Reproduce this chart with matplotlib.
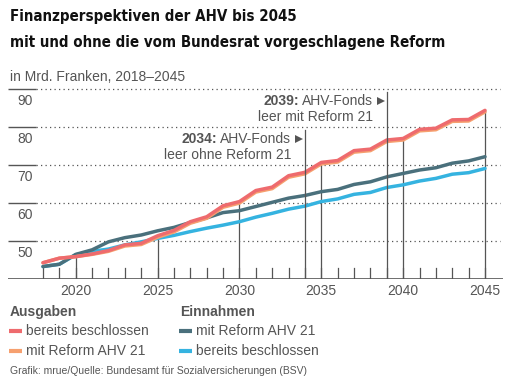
import matplotlib.pyplot as plt
from matplotlib.lines import Line2D

years = list(range(2018, 2046))

# Ausgaben
ausg_beschlossen = [44.2, 45.4, 45.8, 46.5, 47.4, 48.9, 49.3, 51.3, 52.7, 55.0, 56.3, 59.2,
                    60.3, 63.2, 64.1, 67.1, 68.0, 70.6, 71.1, 73.7, 74.1, 76.5, 76.9, 79.3,
                    79.6, 81.8, 81.9, 84.3]
ausg_reform = [44.2, 45.4, 45.8, 46.4, 47.2, 48.6, 49.0, 50.9, 52.3, 54.6, 55.9, 58.8,
               59.9, 62.8, 63.7, 66.7, 67.6, 70.2, 70.7, 73.3, 73.7, 76.1, 76.5, 78.9,
               79.2, 81.4, 81.5, 83.9]

# Einnahmen
einn_reform = [43.2, 43.8, 46.4, 47.6, 49.7, 50.8, 51.5, 52.6, 53.5, 54.8, 56.0, 57.4,
               57.9, 59.0, 60.1, 61.2, 61.9, 62.9, 63.5, 64.8, 65.5, 66.8, 67.7, 68.6,
               69.2, 70.4, 71.0, 72.1]
einn_beschlossen = [43.2, 43.8, 46.3, 47.2, 47.8, 48.9, 49.7, 50.6, 51.4, 52.4, 53.3, 54.1,
                    55.0, 56.2, 57.2, 58.3, 59.1, 60.3, 61.0, 62.2, 62.7, 64.0, 64.7, 65.7,
                    66.4, 67.5, 67.9, 69.0]

yticks = [50, 60, 70, 80, 90]
xlabels = [2020, 2025, 2030, 2035, 2040, 2045]

# Fonds leer
events = [(2034, "2034:", "AHV-Fonds", "leer ohne Reform 21", 79.1),
          (2039, "2039:", "AHV-Fonds", "leer mit Reform 21", 89.1)]

RED = "#ee6b6e"
ORANGE = "#f6a06f"
DARK = "#4a707c"
BLUE = "#35b3e0"
GREY = "#555555"
FONT = "Liberation Sans"

W, H = 513, 381
fig = plt.figure(figsize=(W / 100, H / 100), dpi=100)
ax = fig.add_axes([8 / W, (H - 278.7) / H, 495 / W, (278.7 - 84.9) / H])

x0 = 2018 - 35 / 16.37
x1 = 2045 + 18 / 16.37
ax.set_xlim(x0, x1)
ax.set_ylim(40, 91)
ax.axis("off")

# gridlines: short solid part, then dotted
for v in yticks:
    ax.plot([x0, 2017.6], [v, v], color=GREY, lw=1.0, solid_capstyle="butt")
    ax.plot([2017.6, 2045.9], [v, v], color=GREY, lw=0.9, ls=(0, (1, 2.6)))
    ax.text(x0 + 9 / 16.37, v - 1.5, str(v), ha="left", va="top", fontsize=10,
            color=GREY, family=FONT)

# baseline
ax.plot([x0, x1], [40, 40], color=GREY, lw=1.2, solid_capstyle="butt")

# year ticks
for y in years:
    ax.plot([y, y], [40, 42.9], color=GREY, lw=0.9)
for y in xlabels:
    top = ausg_beschlossen[years.index(y)]
    ax.plot([y, y], [40, top], color=GREY, lw=0.9)
    ax.text(y, 36.8, str(y), ha="center", va="center", fontsize=10, color=GREY,
            family=FONT, clip_on=False)

ax.plot(years, einn_beschlossen, color=BLUE, lw=2.5, solid_capstyle="round")
ax.plot(years, einn_reform, color=DARK, lw=2.5, solid_capstyle="round")
ax.plot(years, ausg_reform, color=ORANGE, lw=2.5, solid_capstyle="round")
ax.plot(years, ausg_beschlossen, color=RED, lw=2.5, solid_capstyle="round")

# annotations
fig.canvas.draw()
renderer = fig.canvas.get_renderer()
for yr, bold, reg, line2, top in events:
    ax.plot([yr, yr], [40, top], color=GREY, lw=0.9)
    tx = yr - 13.5 / 16.37
    ty1 = top - 2.3
    ty2 = ty1 - 4.3
    ax.plot(yr - 5.5 / 16.37, ty1, marker=">", color=GREY, ms=6, mew=0)
    t = ax.text(tx, ty1, reg, ha="right", va="center", fontsize=10, color=GREY, family=FONT)
    bb = t.get_window_extent(renderer)
    bx = ax.transData.inverted().transform((bb.x0 - 3, 0))[0]
    ax.text(bx, ty1, bold, ha="right", va="center", fontsize=10, color=GREY,
            family=FONT, fontweight="bold")
    ax.text(tx, ty2, line2, ha="right", va="center", fontsize=10, color=GREY, family=FONT)

# titles
title_kw = dict(fontsize=10.8, fontweight="bold", family="DejaVu Sans",
                fontstretch="condensed", color="#111111", va="center")
fig.text(10 / W, 1 - 16 / H, "Finanzperspektiven der AHV bis 2045", **title_kw)
fig.text(10 / W, 1 - 42 / H, "mit und ohne die vom Bundesrat vorgeschlagene Reform", **title_kw)
fig.text(10 / W, 1 - 77 / H, "in Mrd. Franken, 2018–2045", fontsize=10, color=GREY,
         family=FONT, va="center")

# legend
def legend_item(px, py, color, label):
    fig.add_artist(Line2D([px / W, (px + 13) / W], [1 - py / H, 1 - py / H],
                          color=color, lw=3, solid_capstyle="butt",
                          transform=fig.transFigure))
    fig.text((px + 17) / W, 1 - py / H, label, fontsize=10, color=GREY, family=FONT,
             va="center")

fig.text(10 / W, 1 - 312 / H, "Ausgaben", fontsize=10, fontweight="bold", color=GREY,
         family=FONT, va="center")
fig.text(180 / W, 1 - 312 / H, "Einnahmen", fontsize=10, fontweight="bold", color=GREY,
         family=FONT, va="center")
legend_item(9, 331, RED, "bereits beschlossen")
legend_item(9, 351, ORANGE, "mit Reform AHV 21")
legend_item(179, 331, DARK, "mit Reform AHV 21")
legend_item(179, 351, BLUE, "bereits beschlossen")

fig.text(10 / W, 1 - 371 / H, "Grafik: mrue/Quelle: Bundesamt für Sozialversicherungen (BSV)",
         fontsize=7.5, color=GREY, family=FONT, va="center")

fig.savefig("out.png", dpi=100, facecolor="white")
